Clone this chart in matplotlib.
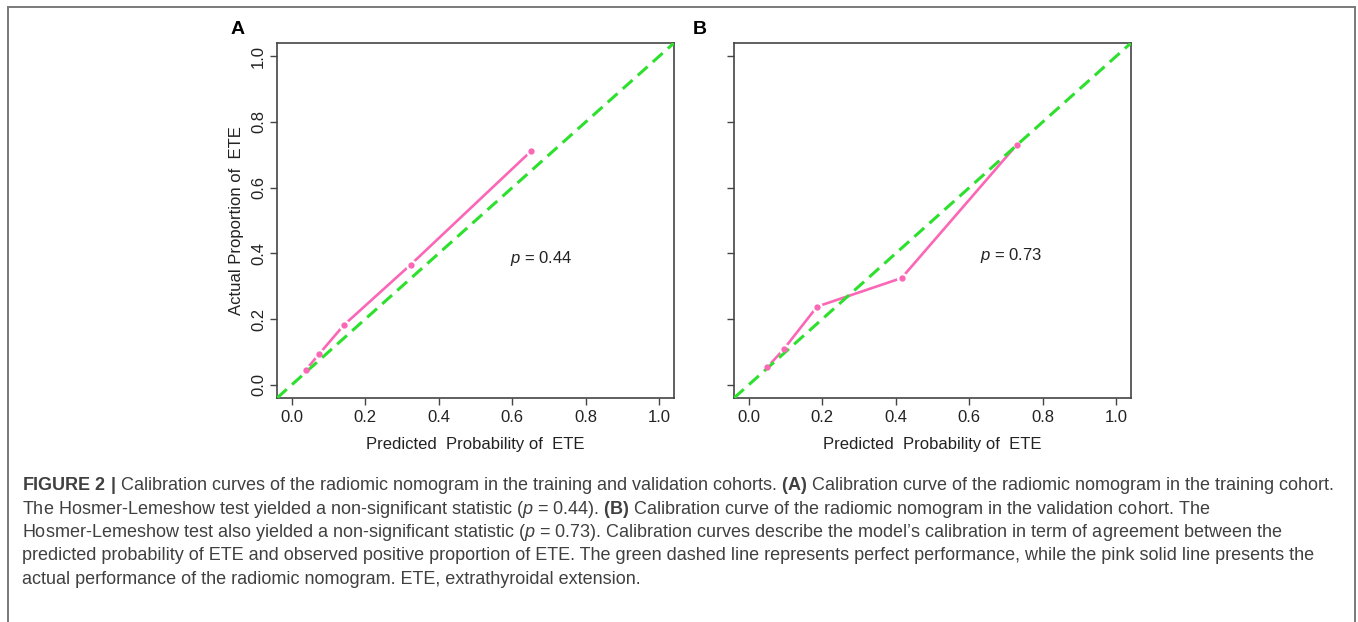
import matplotlib
matplotlib.use("Agg")
import matplotlib.pyplot as plt
from matplotlib.lines import Line2D

plt.rcParams['font.family'] = ['Liberation Sans', 'DejaVu Sans']
plt.rcParams['mathtext.fontset'] = 'custom'
plt.rcParams['mathtext.rm'] = 'Liberation Sans'
plt.rcParams['mathtext.it'] = 'Liberation Sans:italic'
plt.rcParams['mathtext.bf'] = 'Liberation Sans:bold'

# calibration points
pred_a = [0.038, 0.074, 0.142, 0.324, 0.652]
actual_a = [0.045, 0.093, 0.182, 0.366, 0.712]
pred_b = [0.050, 0.095, 0.186, 0.416, 0.729]
actual_b = [0.053, 0.108, 0.238, 0.325, 0.730]
p_values = ["0.44", "0.73"]
panel_labels = ["A", "B"]
ticks = [0.0, 0.2, 0.4, 0.6, 0.8, 1.0]
tick_labels = ["0.0", "0.2", "0.4", "0.6", "0.8", "1.0"]

caption = [
    r"$\mathbf{FIGURE\ 2\ |}$ Calibration curves of the radiomic nomogram in the training and validation cohorts. "
    r"$\mathbf{(A)}$ Calibration curve of the radiomic nomogram in the training cohort.",
    r"The Hosmer-Lemeshow test yielded a non-significant statistic ($\mathit{p}$ = 0.44). "
    r"$\mathbf{(B)}$ Calibration curve of the radiomic nomogram in the validation cohort. The",
    r"Hosmer-Lemeshow test also yielded a non-significant statistic ($\mathit{p}$ = 0.73). Calibration curves "
    "describe the model\u2019s calibration in term of agreement between the",
    "predicted probability of ETE and observed positive proportion of ETE. The green dashed line represents "
    "perfect performance, while the pink solid line presents the",
    "actual performance of the radiomic nomogram. ETE, extrathyroidal extension.",
]

PINK = "#fb66b6"
GREEN = "#2ee02e"
W, H = 1358, 622

fig = plt.figure(figsize=(W / 100, H / 100), dpi=100)
fig.patch.set_facecolor("white")

# outer frame (open at the bottom)
frame = dict(color="#7a7a7a", lw=1.4, transform=fig.transFigure)
fig.add_artist(Line2D([7.5 / W, 7.5 / W], [0, 1 - 6.5 / H], **frame))
fig.add_artist(Line2D([7.5 / W, 1355 / W], [1 - 6.5 / H, 1 - 6.5 / H], **frame))
fig.add_artist(Line2D([1355 / W, 1355 / W], [0, 1 - 6.5 / H], **frame))

lefts = [277 / W, 734 / W]
data = [(pred_a, actual_a), (pred_b, actual_b)]
p_pos = [(0.68, 0.383), (0.715, 0.395)]

for i in range(2):
    ax = fig.add_axes([lefts[i], 1 - 398 / H, 397 / W, 355 / H])
    px, py = data[i]
    ax.plot(px, py, color=PINK, lw=1.9, zorder=2)
    # white halo gives the R type="b" gaps around the points
    ax.plot(px, py, ls="none", marker="o", ms=3.5, mfc="white", mec="white", mew=4.5, zorder=3)
    ax.axline((0, 0), slope=1, color=GREEN, lw=2.2, dashes=(4.3, 2.3), zorder=4)
    ax.plot(px, py, ls="none", marker="o", ms=3.5, color=PINK, zorder=5)

    ax.set_xlim(-0.04, 1.04)
    ax.set_ylim(-0.04, 1.04)
    ax.set_xticks(ticks)
    ax.set_xticklabels(tick_labels)
    ax.set_yticks(ticks)
    if i == 0:
        ax.set_yticklabels(tick_labels, rotation=90, va="center")
        ax.set_ylabel("Actual Proportion of  ETE", fontsize=12, color="#222222", labelpad=5)
    else:
        ax.set_yticklabels([])
    ax.set_xlabel("Predicted  Probability of  ETE", fontsize=12, color="#222222", labelpad=8)
    ax.tick_params(length=5, width=1, color="#444444", labelsize=12, labelcolor="#222222", pad=4)
    ax.tick_params(axis="y", pad=3)
    for s in ax.spines.values():
        s.set_color("#444444")
        s.set_linewidth(1.2)

    ax.text(p_pos[i][0], p_pos[i][1], r"$\mathit{p}$ = " + p_values[i], fontsize=12,
            ha="center", va="center", color="#222222")
    fig.text((238 if i == 0 else 700) / W, 1 - 30 / H, panel_labels[i], fontsize=14,
             fontweight="bold", ha="center", va="center")

baselines = [490, 513.5, 537, 560.5, 584]
for line, yb in zip(caption, baselines):
    fig.text(22 / W, 1 - yb / H, line, fontsize=13, color="#404040", ha="left", va="baseline")

fig.savefig("out.png", dpi=100, facecolor="white")
